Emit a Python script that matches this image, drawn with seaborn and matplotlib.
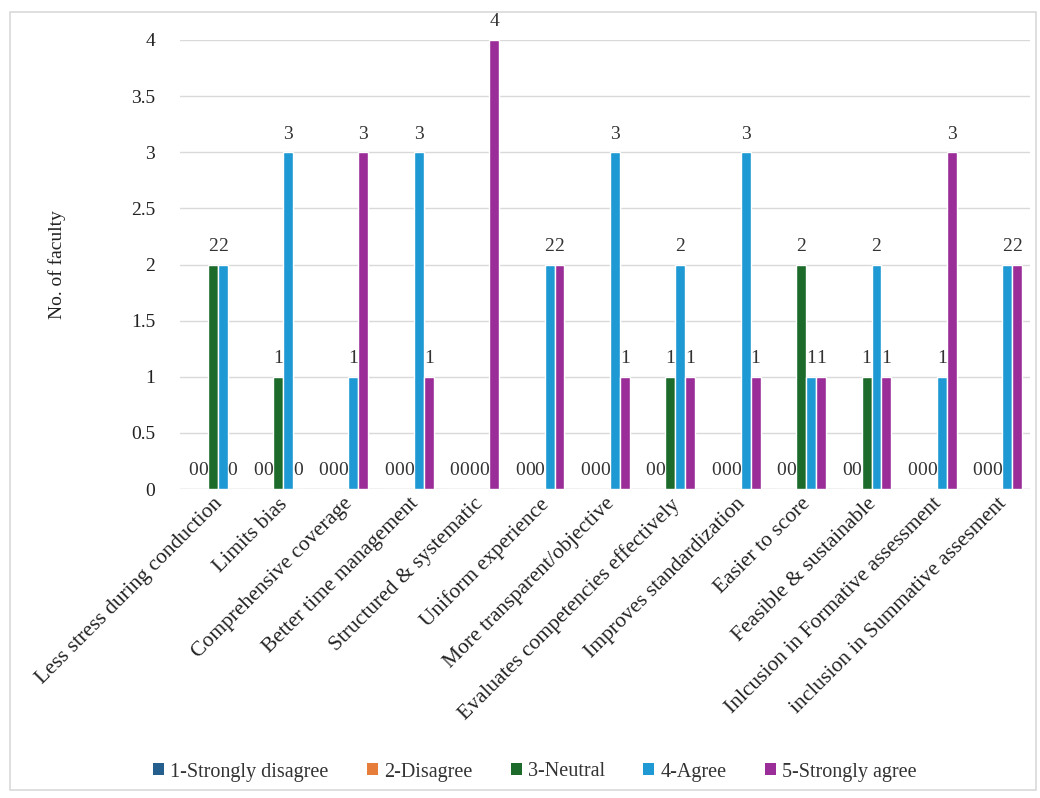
import matplotlib
matplotlib.use("Agg")
import matplotlib.pyplot as plt
from matplotlib.patches import Rectangle, Patch
import seaborn as sns
import pandas as pd

# Survey items (x axis)
items = [
    "Less stress during conduction",
    "Limits bias",
    "Comprehensive coverage",
    "Better time management",
    "Structured & systematic",
    "Uniform experience",
    "More transparent/objective",
    "Evaluates competencies effectively",
    "Improves standardization",
    "Easier to score",
    "Feasible & sustainable",
    "Inlcusion in Formative assessment",
    "inclusion in Summative assesment",
]

# Likert response categories
responses = ["1-Strongly disagree", "2-Disagree", "3-Neutral", "4-Agree", "5-Strongly agree"]

# Number of faculty per response, one list per category
strongly_disagree = [0, 0, 0, 0, 0, 0, 0, 0, 0, 0, 0, 0, 0]
disagree          = [0, 0, 0, 0, 0, 0, 0, 0, 0, 0, 0, 0, 0]
neutral           = [2, 1, 0, 0, 0, 0, 0, 1, 0, 2, 1, 0, 0]
agree             = [2, 3, 1, 3, 0, 2, 3, 2, 3, 1, 2, 1, 2]
strongly_agree    = [0, 0, 3, 1, 4, 2, 1, 1, 1, 1, 1, 3, 2]

colors = ["#245f8e", "#e67d3a", "#1c6b2b", "#1f99d3", "#9a2d97"]

series = [strongly_disagree, disagree, neutral, agree, strongly_agree]
rows = []
for resp, vals in zip(responses, series):
    for item, v in zip(items, vals):
        rows.append({"item": item, "response": resp, "count": v})
df = pd.DataFrame(rows)

sns.set_style("white")
plt.rcParams["font.family"] = ["Liberation Serif", "DejaVu Serif"]

fig = plt.figure(figsize=(10.4, 7.98), dpi=100)
fig.patch.set_facecolor("white")
ax = fig.add_axes([180 / 1040, 1 - 489 / 798, 850 / 1040, 449 / 798])

sns.barplot(
    data=df, x="item", y="count", hue="response",
    order=items, hue_order=responses, palette=colors,
    width=0.76, saturation=1, edgecolor="white", linewidth=1.0,
    errorbar=None, ax=ax,
)

# value labels above each bar
for cont in ax.containers:
    ax.bar_label(cont, fmt="%d", padding=7, fontsize=14, color="#333333", clip_on=False)

ax.set_ylim(0, 4)
ax.set_xlim(-0.5, len(items) - 0.5)
ax.set_yticks([0, 0.5, 1, 1.5, 2, 2.5, 3, 3.5, 4])
ax.set_yticklabels(["0", "0.5", "1", "1.5", "2", "2.5", "3", "3.5", "4"])
ax.yaxis.grid(True, color="#d9d9d9", linewidth=1)
ax.set_axisbelow(True)
for s in ax.spines.values():
    s.set_visible(False)
ax.axhline(0, color="#d9d9d9", linewidth=1, zorder=0)
ax.tick_params(axis="y", length=0, labelsize=14, colors="#222222", pad=18)
ax.tick_params(axis="x", length=0, labelsize=15.5, colors="#222222", pad=4)
plt.setp(ax.get_xticklabels(), rotation=45, ha="right", rotation_mode="anchor")
ax.set_xlabel("")
ax.set_ylabel("")

fig.text(57 / 1040, 1 - 265 / 798, "No. of faculty", rotation=90,
         ha="center", va="center", fontsize=14, color="#222222")

# legend at the bottom
if ax.get_legend() is not None:
    ax.get_legend().remove()
handles = [Patch(facecolor=c, edgecolor="none") for c in colors]
fig.legend(handles, responses, loc="center", bbox_to_anchor=(535 / 1040, 26 / 798),
           ncol=5, frameon=False, fontsize=14.5, handlelength=0.55, handleheight=0.55,
           handletextpad=0.3, columnspacing=1.9, labelcolor="#333333")

# chart-area border
fig.patches.append(Rectangle((10 / 1040, 8 / 798), 1026 / 1040, 778 / 798,
                             transform=fig.transFigure, fill=False,
                             edgecolor="#d9d9d9", linewidth=1.2))

fig.savefig("out.png", dpi=100, facecolor="white")
